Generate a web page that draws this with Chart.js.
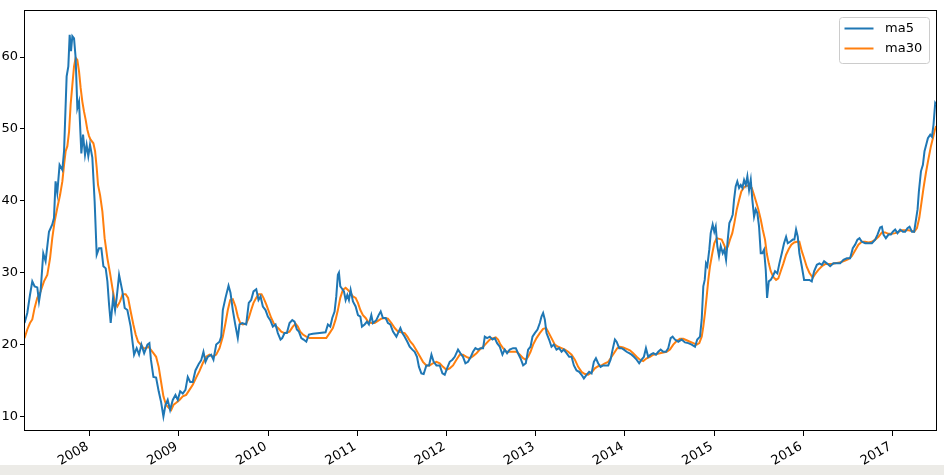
<!DOCTYPE html>
<html>
<head>
<meta charset="utf-8">
<script src="https://cdn.jsdelivr.net/npm/chart.js@4.4.1/dist/chart.umd.min.js"></script>
<style>
  html, body { margin: 0; padding: 0; background: #ffffff; }
  #wrap { position: relative; width: 944px; height: 475px; overflow: hidden; background: #ffffff; }
  #strip { position: absolute; left: 0; top: 465px; width: 944px; height: 10px; background: #ecebe7; }
  canvas { position: absolute; left: 0; top: 0; }
</style>
</head>
<body>
<div id="wrap">
  <canvas id="c" width="944" height="465"></canvas>
  <div id="strip"></div>
</div>
<script>
// ---- data (decimal years / values) ----
const yearTicks = [2008, 2009, 2010, 2011, 2012, 2013, 2014, 2015, 2016, 2017];
const valueTicks = [10, 20, 30, 40, 50, 60];

const ma5Dates = [
2007.270,2007.301,2007.331,2007.357,2007.383,2007.413,2007.432,2007.450,2007.480,2007.506,
2007.544,2007.581,2007.600,2007.618,2007.637,2007.663,2007.694,2007.713,2007.742,2007.761,
2007.776,2007.791,2007.806,2007.825,2007.843,2007.862,2007.881,2007.907,2007.926,2007.948,
2007.966,2007.985,2008.004,2008.030,2008.056,2008.079,2008.105,2008.131,2008.154,2008.180,
2008.199,2008.218,2008.236,2008.263,2008.285,2008.303,2008.330,2008.367,2008.393,2008.423,
2008.460,2008.498,2008.527,2008.554,2008.580,2008.611,2008.648,2008.670,2008.687,2008.715,
2008.745,2008.774,2008.801,2008.827,2008.850,2008.875,2008.902,2008.932,2008.962,2008.988,
2009.015,2009.044,2009.074,2009.100,2009.127,2009.156,2009.186,2009.223,2009.250,2009.276,
2009.299,2009.324,2009.362,2009.388,2009.419,2009.456,2009.475,2009.493,2009.523,2009.557,
2009.579,2009.605,2009.632,2009.661,2009.680,2009.710,2009.755,2009.784,2009.811,2009.837,
2009.868,2009.893,2009.916,2009.942,2009.972,2009.998,2010.025,2010.054,2010.084,2010.110,
2010.140,2010.159,2010.185,2010.211,2010.241,2010.272,2010.297,2010.323,2010.346,2010.373,
2010.398,2010.429,2010.458,2010.503,2010.578,2010.645,2010.671,2010.698,2010.720,2010.746,
2010.765,2010.783,2010.795,2010.810,2010.828,2010.851,2010.870,2010.889,2010.907,2010.926,
2010.952,2010.982,2011.008,2011.035,2011.053,2011.083,2011.109,2011.131,2011.158,2011.176,
2011.214,2011.240,2011.263,2011.288,2011.319,2011.344,2011.371,2011.401,2011.439,2011.465,
2011.484,2011.506,2011.532,2011.562,2011.588,2011.618,2011.644,2011.670,2011.692,2011.719,
2011.745,2011.775,2011.805,2011.832,2011.857,2011.888,2011.925,2011.955,2011.981,2012.007,
2012.037,2012.067,2012.093,2012.130,2012.157,2012.186,2012.213,2012.242,2012.273,2012.298,
2012.325,2012.354,2012.381,2012.411,2012.430,2012.456,2012.486,2012.516,2012.542,2012.568,
2012.598,2012.628,2012.654,2012.680,2012.710,2012.747,2012.778,2012.803,2012.830,2012.860,
2012.890,2012.916,2012.943,2012.965,2012.991,2013.021,2013.047,2013.066,2013.084,2013.103,
2013.122,2013.151,2013.178,2013.204,2013.234,2013.264,2013.291,2013.316,2013.347,2013.376,
2013.403,2013.429,2013.459,2013.488,2013.515,2013.541,2013.571,2013.600,2013.627,2013.653,
2013.676,2013.701,2013.728,2013.757,2013.788,2013.814,2013.840,2013.863,2013.889,2013.908,
2013.937,2013.964,2013.990,2014.020,2014.049,2014.076,2014.102,2014.132,2014.161,2014.188,
2014.214,2014.237,2014.262,2014.289,2014.319,2014.349,2014.375,2014.402,2014.431,2014.461,
2014.487,2014.514,2014.536,2014.562,2014.599,2014.637,2014.674,2014.711,2014.750,2014.787,
2014.812,2014.843,2014.862,2014.880,2014.896,2014.910,2014.925,2014.947,2014.963,2014.985,
2015.003,2015.019,2015.037,2015.056,2015.075,2015.098,2015.116,2015.135,2015.154,2015.172,
2015.191,2015.210,2015.224,2015.243,2015.261,2015.281,2015.300,2015.318,2015.337,2015.356,
2015.374,2015.393,2015.412,2015.430,2015.449,2015.468,2015.486,2015.505,2015.524,2015.542,
2015.561,2015.580,2015.595,2015.614,2015.636,2015.659,2015.684,2015.710,2015.733,2015.760,
2015.785,2015.808,2015.827,2015.853,2015.883,2015.901,2015.920,2015.939,2015.957,2015.984,
2016.010,2016.040,2016.069,2016.096,2016.122,2016.153,2016.182,2016.209,2016.234,2016.265,
2016.302,2016.339,2016.377,2016.414,2016.451,2016.489,2016.526,2016.556,2016.582,2016.608,
2016.631,2016.657,2016.695,2016.732,2016.770,2016.807,2016.833,2016.863,2016.882,2016.900,
2016.927,2016.956,2016.983,2017.005,2017.031,2017.057,2017.087,2017.118,2017.143,2017.169,
2017.192,2017.219,2017.244,2017.267,2017.282,2017.297,2017.320,2017.342,2017.360,2017.379,
2017.398,2017.424,2017.443,2017.461,2017.480,2017.491
];
const ma5Values = [
23.0,24.4,26.9,28.8,28.1,27.95,26.0,27.4,32.7,31.6,
35.7,36.7,37.6,42.7,41.1,45.0,44.3,46.9,57.3,58.7,
63.1,60.8,62.9,62.6,59.9,52.9,53.8,46.6,49.2,46.4,
47.8,46.2,47.8,46.0,39.9,32.5,33.4,33.4,30.9,30.6,
28.8,25.5,23.0,26.5,24.8,26.5,29.7,27.4,25.1,24.8,
22.5,18.6,19.5,18.6,20.0,18.8,20.0,20.2,17.9,15.5,
15.4,13.5,12.0,10.0,11.6,12.3,10.9,12.3,13.0,12.3,
13.5,13.2,13.7,15.5,14.8,14.8,16.4,17.3,17.8,19.0,
17.6,18.3,18.6,17.9,20.0,20.4,21.1,24.8,26.5,28.2,
27.2,24.8,22.8,20.9,22.8,23.0,22.8,25.8,26.2,27.4,
27.7,26.2,26.7,25.3,24.8,23.9,23.4,22.5,22.8,21.6,
20.7,20.9,21.6,21.6,23.0,23.4,23.2,22.1,21.8,20.9,
20.7,20.4,21.4,21.5,21.6,21.7,22.8,22.5,23.7,24.6,
26.7,29.7,30.0,28.1,27.8,27.4,26.2,26.9,26.2,27.6,
26.0,25.3,24.1,23.9,22.5,22.8,23.2,22.8,24.1,23.0,
23.4,24.1,24.6,23.7,23.7,23.0,22.8,21.8,21.1,21.8,
22.3,21.6,21.1,20.4,19.7,19.3,19.0,18.3,16.9,16.0,
15.9,17.1,17.1,18.6,17.6,17.1,17.1,16.0,15.8,16.7,
17.6,17.9,18.3,19.3,18.8,18.3,17.4,17.6,18.3,19.0,
19.5,19.3,19.5,19.5,21.1,20.9,21.1,20.7,20.9,20.2,
19.7,18.6,19.3,18.8,19.3,19.5,19.5,18.8,18.1,17.1,
17.4,19.3,19.7,21.1,21.6,22.1,23.0,23.9,24.4,23.5,
21.6,20.7,19.7,20.0,19.3,19.5,19.0,19.3,18.8,18.3,
18.3,17.1,16.4,16.2,15.8,15.3,15.8,16.2,16.0,17.6,
18.1,17.4,16.9,17.1,17.1,17.1,17.9,19.3,20.7,20.4,
19.5,19.5,19.3,19.0,18.8,18.6,18.3,17.9,17.4,17.9,
18.3,19.5,18.3,18.6,18.8,18.6,19.0,19.3,19.0,19.0,
19.5,20.9,21.1,20.7,20.4,20.7,20.3,20.2,20.0,19.7,
20.7,21.1,23.5,28.1,29.0,31.3,30.9,33.2,35.5,36.7,
35.7,36.4,33.7,32.3,33.7,32.7,33.2,31.8,34.6,36.9,
37.4,38.1,40.1,42.0,42.7,41.8,42.2,41.8,42.9,42.2,
43.4,41.5,42.9,40.1,37.8,38.8,38.3,36.4,32.7,32.7,
33.2,30.4,26.5,28.8,29.0,29.5,30.2,29.9,31.3,32.7,
34.1,35.0,34.1,34.3,34.6,34.6,36.0,35.0,32.7,30.9,
29.0,29.0,29.0,28.8,30.2,31.1,31.3,31.1,31.6,31.3,
30.9,31.3,31.3,31.3,31.8,32.0,32.0,33.4,33.9,34.6,
34.8,34.3,34.1,34.1,34.1,34.6,35.3,36.3,36.4,35.3,
34.8,35.3,35.3,35.7,36.0,35.5,36.0,35.7,35.7,36.2,
36.4,35.7,35.7,37.6,38.8,41.3,44.1,45.0,46.9,47.8,
48.7,49.2,48.9,50.6,53.6,53.4
];

const ma30Dates = [
2007.270,2007.301,2007.331,2007.357,2007.383,2007.413,2007.450,2007.488,2007.525,2007.556,
2007.581,2007.607,2007.637,2007.668,2007.694,2007.713,2007.731,2007.750,2007.769,2007.787,
2007.806,2007.825,2007.843,2007.862,2007.881,2007.899,2007.918,2007.937,2007.955,2007.974,
2007.993,2008.011,2008.042,2008.061,2008.079,2008.094,2008.117,2008.143,2008.168,2008.199,
2008.229,2008.255,2008.281,2008.311,2008.341,2008.370,2008.404,2008.431,2008.460,2008.490,
2008.516,2008.543,2008.572,2008.603,2008.628,2008.659,2008.685,2008.715,2008.745,2008.774,
2008.801,2008.827,2008.857,2008.887,2008.914,2008.939,2008.970,2009.007,2009.044,2009.082,
2009.119,2009.156,2009.194,2009.231,2009.268,2009.306,2009.343,2009.380,2009.419,2009.456,
2009.493,2009.523,2009.549,2009.576,2009.605,2009.635,2009.661,2009.688,2009.717,2009.755,
2009.784,2009.811,2009.837,2009.868,2009.897,2009.927,2009.949,2009.980,2010.009,2010.036,
2010.062,2010.092,2010.121,2010.148,2010.185,2010.222,2010.241,2010.278,2010.309,2010.334,
2010.361,2010.391,2010.429,2010.466,2010.653,2010.690,2010.727,2010.758,2010.783,2010.810,
2010.839,2010.870,2010.896,2010.926,2010.952,2010.982,2011.008,2011.035,2011.064,2011.094,
2011.120,2011.158,2011.195,2011.232,2011.270,2011.307,2011.344,2011.383,2011.420,2011.457,
2011.495,2011.532,2011.562,2011.596,2011.625,2011.663,2011.700,2011.737,2011.775,2011.812,
2011.849,2011.888,2011.925,2011.962,2012.000,2012.037,2012.074,2012.112,2012.149,2012.186,
2012.224,2012.261,2012.298,2012.337,2012.374,2012.411,2012.449,2012.486,2012.523,2012.553,
2012.579,2012.606,2012.635,2012.673,2012.710,2012.747,2012.786,2012.823,2012.860,2012.890,
2012.916,2012.943,2012.972,2013.010,2013.047,2013.084,2013.118,2013.140,2013.178,2013.215,
2013.252,2013.291,2013.328,2013.365,2013.403,2013.440,2013.477,2013.515,2013.552,2013.589,
2013.627,2013.664,2013.701,2013.739,2013.777,2013.814,2013.852,2013.889,2013.915,2013.945,
2013.982,2014.020,2014.057,2014.094,2014.132,2014.169,2014.206,2014.245,2014.282,2014.319,
2014.357,2014.394,2014.431,2014.469,2014.506,2014.543,2014.581,2014.618,2014.655,2014.693,
2014.730,2014.768,2014.806,2014.835,2014.862,2014.880,2014.899,2014.918,2014.936,2014.955,
2014.981,2015.003,2015.030,2015.059,2015.086,2015.112,2015.135,2015.157,2015.179,2015.205,
2015.228,2015.255,2015.281,2015.306,2015.337,2015.367,2015.396,2015.423,2015.449,2015.471,
2015.497,2015.524,2015.546,2015.572,2015.591,2015.614,2015.636,2015.665,2015.696,2015.721,
2015.748,2015.778,2015.808,2015.838,2015.867,2015.898,2015.928,2015.957,2015.984,2016.010,
2016.040,2016.069,2016.107,2016.133,2016.170,2016.209,2016.246,2016.283,2016.321,2016.358,
2016.395,2016.433,2016.470,2016.507,2016.545,2016.582,2016.619,2016.657,2016.695,2016.732,
2016.770,2016.807,2016.844,2016.882,2016.919,2016.956,2016.994,2017.031,2017.068,2017.106,
2017.143,2017.180,2017.219,2017.244,2017.275,2017.301,2017.323,2017.349,2017.376,2017.402,
2017.432,2017.454,2017.477,2017.491
];
const ma30Values = [
20.9,22.1,23.0,23.5,25.1,26.5,27.4,28.8,29.7,32.0,
34.8,37.1,39.0,40.8,42.7,45.0,46.9,47.6,49.6,53.4,
56.1,58.7,59.9,59.6,58.0,55.7,53.8,52.4,51.3,49.9,
49.0,48.5,48.0,46.9,44.6,42.2,40.8,38.5,34.8,32.0,
29.9,27.9,26.0,25.3,26.0,27.0,27.0,26.5,24.6,22.8,
21.4,20.4,20.0,19.5,19.5,19.7,19.3,18.8,18.3,16.9,
14.8,12.8,11.6,11.2,10.9,11.6,11.9,12.3,12.8,13.0,
13.7,14.4,15.4,16.3,17.4,18.3,18.6,18.3,18.6,19.5,
21.1,23.0,24.8,26.2,26.3,25.3,23.9,23.0,22.8,22.9,
23.7,24.8,25.8,26.5,27.0,27.0,26.5,25.6,24.6,23.7,
23.0,22.5,22.2,21.8,21.6,21.7,21.8,22.5,22.9,22.5,
21.8,21.4,21.1,20.9,20.9,21.6,22.3,23.5,24.8,26.5,
27.6,27.9,27.6,27.2,26.7,26.5,25.8,24.8,24.1,23.7,
23.2,23.0,23.0,23.3,23.6,23.7,23.6,23.0,22.3,21.8,
21.7,21.6,21.1,20.4,20.0,19.2,18.4,17.6,17.1,17.1,
17.4,17.6,17.4,16.9,16.5,16.7,17.1,17.9,18.6,18.6,
18.3,18.1,18.4,18.8,19.3,19.7,20.2,20.7,20.9,21.0,
20.7,20.0,19.5,19.0,19.0,19.0,19.0,18.6,18.1,17.9,
18.3,19.0,20.0,20.9,21.6,22.2,22.3,21.8,20.9,20.0,
19.7,19.5,19.3,19.0,18.6,17.9,16.9,16.2,15.9,15.8,
16.1,16.7,17.0,17.1,17.4,17.6,18.3,19.0,19.5,19.7,
19.6,19.4,19.2,18.8,18.3,17.9,17.7,18.1,18.3,18.6,
18.7,18.8,18.9,19.0,19.3,20.0,20.5,20.8,20.8,20.6,
20.4,20.2,20.0,20.2,21.1,22.5,24.4,26.7,29.0,30.9,
32.7,34.1,34.8,34.7,34.6,33.9,33.2,33.7,34.6,35.5,
36.9,38.8,40.1,41.3,41.9,42.1,42.1,41.8,40.8,39.9,
38.8,37.4,36.0,34.6,32.7,31.3,30.2,29.4,29.0,29.2,
30.2,31.3,32.5,33.3,33.9,34.2,34.3,34.3,33.0,32.0,
30.8,30.0,29.3,29.8,30.4,30.9,31.2,31.2,31.2,31.3,
31.4,31.5,31.7,31.9,32.3,33.1,33.9,34.3,34.3,34.2,
34.3,34.6,35.0,35.6,35.6,35.4,35.4,35.5,35.7,35.9,
35.9,35.9,35.8,35.7,36.2,37.6,39.5,41.8,43.9,45.7,
47.6,48.7,49.9,50.4
];

const seriesNames = ['ma5', 'ma30'];
const seriesColors = ['#1f77b4', '#ff7f0e'];

// ---- chart ----
const toPoints = (xs, ys) => xs.map((x, i) => ({ x: x, y: ys[i] }));
const FONT = 'DejaVu Sans';

const framePlugin = {
  id: 'frameAndLegend',
  afterDatasetsDraw(chart) {
    const { ctx, chartArea: a } = chart;
    ctx.save();
    // frame (all four spines)
    ctx.strokeStyle = '#000000';
    ctx.lineWidth = 1;
    const l = Math.round(a.left) + 0.5, t = Math.round(a.top) + 0.5;
    const r = Math.round(a.right) - 0.5, b = Math.round(a.bottom) - 0.5;
    ctx.strokeRect(l, t, r - l, b - t);

    // legend (upper right)
    const bw = 90, bh = 46;
    const bx = Math.round(a.right) - 8 - bw + 0.5, by = Math.round(a.top) + 7 + 0.5;
    const rad = 3;
    ctx.beginPath();
    ctx.moveTo(bx + rad, by);
    ctx.lineTo(bx + bw - rad, by);
    ctx.arcTo(bx + bw, by, bx + bw, by + rad, rad);
    ctx.lineTo(bx + bw, by + bh - rad);
    ctx.arcTo(bx + bw, by + bh, bx + bw - rad, by + bh, rad);
    ctx.lineTo(bx + rad, by + bh);
    ctx.arcTo(bx, by + bh, bx, by + bh - rad, rad);
    ctx.lineTo(bx, by + rad);
    ctx.arcTo(bx, by, bx + rad, by, rad);
    ctx.closePath();
    ctx.fillStyle = 'rgba(255,255,255,0.8)';
    ctx.fill();
    ctx.strokeStyle = '#cccccc';
    ctx.stroke();

    ctx.font = '13px "' + FONT + '"';
    ctx.textBaseline = 'middle';
    ctx.textAlign = 'left';
    chart.data.datasets.forEach((ds, i) => {
      const cy = by + 11 + i * 20;
      ctx.beginPath();
      ctx.strokeStyle = ds.borderColor;
      ctx.lineWidth = 2;
      ctx.moveTo(bx + 5, cy);
      ctx.lineTo(bx + 34, cy);
      ctx.stroke();
      ctx.fillStyle = '#000000';
      ctx.fillText(ds.label, bx + 45.5, cy);
    });
    ctx.restore();
  }
};

new Chart(document.getElementById('c'), {
  type: 'line',
  data: {
    datasets: [
      { label: seriesNames[0], data: toPoints(ma5Dates, ma5Values), borderColor: seriesColors[0], backgroundColor: seriesColors[0], borderWidth: 2, pointRadius: 0, tension: 0, fill: false },
      { label: seriesNames[1], data: toPoints(ma30Dates, ma30Values), borderColor: seriesColors[1], backgroundColor: seriesColors[1], borderWidth: 2, pointRadius: 0, tension: 0, fill: false }
    ]
  },
  options: {
    responsive: false,
    animation: false,
    devicePixelRatio: 1,
    parsing: true,
    layout: { padding: { top: 10, right: 7, bottom: 0, left: 0 } },
    plugins: { legend: { display: false }, tooltip: { enabled: false } },
    scales: {
      x: {
        type: 'linear',
        min: 2007.264,
        max: 2017.50,
        afterBuildTicks: s => { s.ticks = yearTicks.map(v => ({ value: v })); },
        afterFit: s => { s.height = 34; },
        border: { display: false },
        grid: { display: true, drawOnChartArea: false, drawTicks: true, tickLength: 5, color: '#000000', lineWidth: 1 },
        ticks: {
          autoSkip: false, minRotation: 30, maxRotation: 30, padding: 3, labelOffset: -2,
          color: '#000000', font: { family: FONT, size: 13 },
          callback: v => String(v)
        }
      },
      y: {
        type: 'linear',
        min: 7.98,
        max: 66.54,
        afterBuildTicks: s => { s.ticks = valueTicks.map(v => ({ value: v })); },
        afterFit: s => { s.width = 24; },
        border: { display: false },
        grid: { display: true, drawOnChartArea: false, drawTicks: true, tickLength: 4, color: '#000000', lineWidth: 1 },
        ticks: {
          padding: 2, color: '#000000', font: { family: FONT, size: 13 },
          callback: v => String(v)
        }
      }
    }
  },
  plugins: [framePlugin]
});
</script>
</body>
</html>
